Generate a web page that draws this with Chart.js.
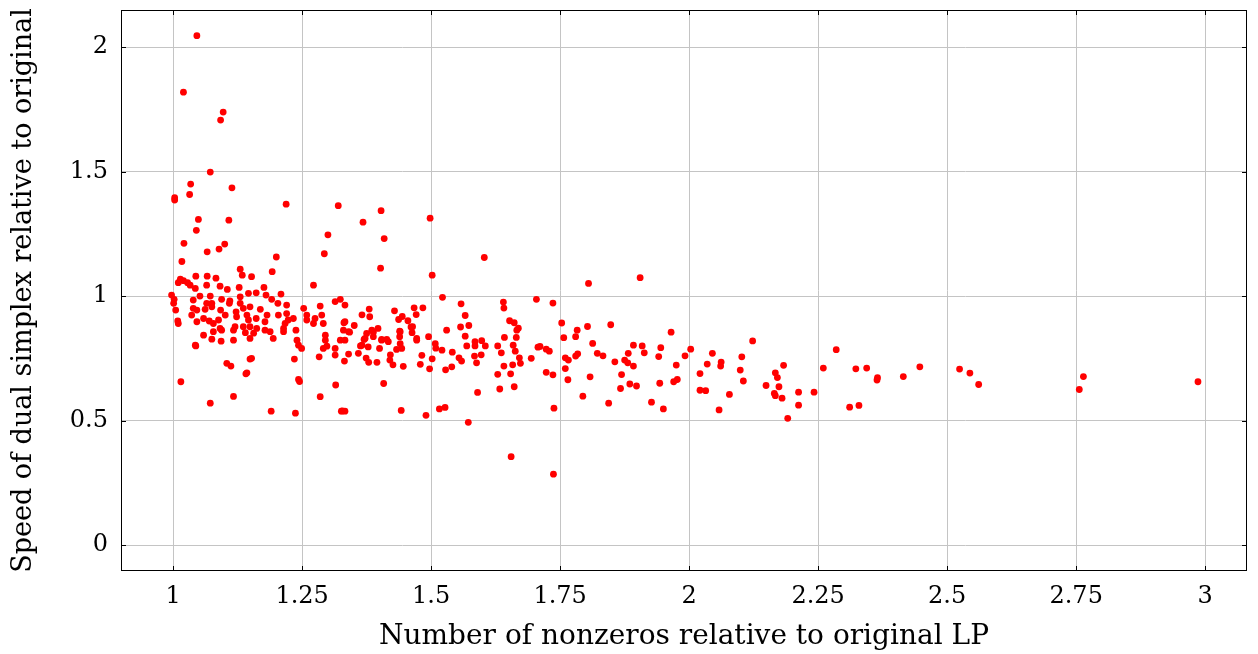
<!DOCTYPE html>
<html>
<head>
<meta charset="utf-8">
<script src="https://cdn.jsdelivr.net/npm/chart.js@4"></script>
<style>
  html, body { margin: 0; padding: 0; background: #fff; }
  #wrap { width: 1258px; height: 654px; }
</style>
</head>
<body>
<div id="wrap"><canvas id="chart"></canvas></div>
<script>
// nonzeros ratio (x) and dual simplex speed ratio (y)
const nonzeroRatio = [
  1.046, 1.020, 1.097, 1.092, 1.072, 1.034, 1.114, 1.032, 1.003, 1.003, 1.219, 1.320,
  1.049, 1.108, 1.045, 1.300, 1.021, 1.100, 1.066, 1.089, 1.293, 1.017, 1.200, 1.130,
  1.192, 1.134, 1.152, 1.044, 1.066, 1.083, 1.014, 1.010, 1.020, 1.028, 1.033, 1.043,
  1.065, 1.091, 1.105, 1.128, 1.176, 1.272, 0.997, 1.002, 1.001, 1.005, 1.009, 1.010,
  1.039, 1.052, 1.072, 1.065, 1.075, 1.094, 1.110, 1.130, 1.146, 1.161, 1.180, 1.209,
  1.191, 1.203, 1.220, 1.039, 1.046, 1.062, 1.075, 1.092, 1.109, 1.130, 1.136, 1.149,
  1.169, 1.182, 1.036, 1.059, 1.070, 1.088, 1.101, 1.122, 1.123, 1.143, 1.146, 1.161,
  1.149, 1.178, 1.204, 1.220, 1.223, 1.046, 1.078, 1.094, 1.078, 1.075, 1.091, 1.117,
  1.120, 1.136, 1.140, 1.156, 1.162, 1.178, 1.188, 1.194, 1.214, 1.214, 1.217, 1.233,
  1.238, 1.240, 1.243, 1.249, 1.253, 1.259, 1.259, 1.272, 1.275, 1.285, 1.288, 1.291,
  1.295, 1.295, 1.298, 1.291, 1.283, 1.314, 1.324, 1.333, 1.330, 1.333, 1.314, 1.314,
  1.340, 1.059, 1.093, 1.117, 1.152, 1.044, 1.104, 1.112, 1.143, 1.149, 1.235, 1.243,
  1.043, 1.149, 1.015, 1.072, 1.117, 1.141, 1.190, 1.237, 1.245, 1.285, 1.315, 1.326,
  1.333, 1.403, 1.368, 1.498, 1.409, 1.603, 1.402, 1.502, 1.522, 1.640, 1.641, 1.704,
  1.736, 1.558, 1.566, 1.484, 1.467, 1.429, 1.380, 1.333, 1.366, 1.381, 1.444, 1.471,
  1.437, 1.455, 1.652, 1.661, 1.669, 1.557, 1.573, 1.351, 1.331, 1.530, 1.566, 1.495,
  1.461, 1.439, 1.342, 1.388, 1.642, 1.665, 1.375, 1.385, 1.397, 1.439, 1.464, 1.472,
  1.404, 1.414, 1.370, 1.388, 1.440, 1.440, 1.443, 1.433, 1.404, 1.417, 1.400, 1.372,
  1.366, 1.324, 1.463, 1.508, 1.585, 1.598, 1.666, 1.408, 1.328, 1.442, 1.490, 1.516,
  1.527, 1.572, 1.655, 1.737, 1.590, 1.633, 1.661, 1.738, 1.629, 1.654, 1.723, 1.736,
  1.497, 1.528, 1.540, 1.479, 1.446, 1.426, 1.395, 1.379, 1.332, 1.588, 1.641, 1.658,
  1.673, 1.694, 1.559, 1.502, 1.482, 1.584, 1.597, 1.541, 1.554, 1.421, 1.420, 1.374,
  1.359, 1.340, 1.521, 1.509, 1.636, 1.663, 1.671, 1.707, 1.723, 1.729, 1.569, 1.629,
  1.585, 1.605, 1.659, 1.472, 1.378, 1.363, 1.711, 1.805, 1.905, 1.753, 1.757, 1.783,
  1.780, 1.803, 1.848, 1.813, 1.822, 1.833, 1.784, 1.780, 1.760, 1.766, 1.760, 1.765,
  1.808, 1.794, 1.856, 1.844, 1.869, 1.867, 1.875, 1.882, 1.881, 1.892, 1.885, 1.898,
  1.892, 1.909, 1.913, 1.927, 1.941, 1.945, 1.943, 1.950, 1.965, 1.975, 1.970, 1.977,
  1.992, 2.003, 2.021, 2.021, 2.032, 2.035, 2.045, 2.061, 2.062, 2.058, 2.078, 2.099,
  2.102, 2.105, 2.123, 2.149, 2.165, 2.167, 2.167, 2.171, 2.174, 2.180, 2.183, 2.191,
  2.212, 2.212, 2.242, 2.260, 2.285, 2.311, 2.329, 2.323, 2.344, 2.365, 2.364, 2.415,
  2.447, 2.524, 2.544, 2.561, 2.756, 2.764, 2.986
];
const speedRatio = [
  2.046, 1.819, 1.739, 1.707, 1.498, 1.450, 1.435, 1.408, 1.395, 1.386, 1.369, 1.363,
  1.308, 1.305, 1.264, 1.246, 1.212, 1.209, 1.178, 1.189, 1.170, 1.139, 1.157, 1.108,
  1.098, 1.084, 1.078, 1.080, 1.080, 1.072, 1.068, 1.054, 1.062, 1.054, 1.044, 1.031,
  1.044, 1.040, 1.027, 1.035, 1.035, 1.044, 1.004, 0.987, 0.971, 0.944, 0.900, 0.890,
  0.984, 1.000, 1.000, 0.971, 0.971, 0.987, 0.981, 0.997, 1.011, 1.013, 1.004, 1.008,
  0.987, 0.971, 0.964, 0.951, 0.944, 0.947, 0.957, 0.944, 0.971, 0.971, 0.951, 0.957,
  0.947, 0.924, 0.924, 0.910, 0.900, 0.904, 0.924, 0.937, 0.917, 0.924, 0.904, 0.910,
  0.877, 0.897, 0.924, 0.930, 0.904, 0.897, 0.890, 0.863, 0.857, 0.827, 0.870, 0.863,
  0.877, 0.877, 0.853, 0.851, 0.870, 0.863, 0.857, 0.830, 0.857, 0.870, 0.890, 0.910,
  0.863, 0.823, 0.803, 0.790, 0.951, 0.924, 0.904, 0.890, 0.910, 0.960, 0.924, 0.890,
  0.843, 0.823, 0.799, 0.790, 0.756, 0.978, 0.987, 0.897, 0.863, 0.823, 0.790, 0.763,
  0.857, 0.843, 0.819, 0.823, 0.750, 0.800, 0.730, 0.719, 0.692, 0.747, 0.747, 0.665,
  0.803, 0.830, 0.656, 0.570, 0.597, 0.688, 0.538, 0.530, 0.657, 0.596, 0.643, 0.538,
  0.538, 1.343, 1.297, 1.313, 1.231, 1.155, 1.112, 1.084, 0.995, 0.976, 0.952, 0.987,
  0.972, 0.969, 0.922, 0.953, 0.953, 0.941, 0.948, 0.964, 0.925, 0.917, 0.918, 0.926,
  0.906, 0.901, 0.901, 0.893, 0.871, 0.876, 0.882, 0.882, 0.893, 0.863, 0.839, 0.837,
  0.876, 0.859, 0.855, 0.855, 0.834, 0.834, 0.850, 0.863, 0.870, 0.837, 0.877, 0.830,
  0.826, 0.826, 0.826, 0.837, 0.857, 0.809, 0.790, 0.786, 0.823, 0.817, 0.790, 0.830,
  0.803, 0.823, 0.853, 0.809, 0.817, 0.821, 0.863, 0.649, 0.539, 0.541, 0.521, 0.547,
  0.553, 0.493, 0.355, 0.285, 0.613, 0.627, 0.636, 0.550, 0.686, 0.688, 0.694, 0.684,
  0.708, 0.704, 0.716, 0.726, 0.718, 0.724, 0.734, 0.734, 0.739, 0.732, 0.719, 0.724,
  0.730, 0.750, 0.739, 0.748, 0.762, 0.759, 0.764, 0.775, 0.752, 0.764, 0.743, 0.751,
  0.770, 0.767, 0.783, 0.791, 0.772, 0.779, 0.752, 0.795, 0.787, 0.779, 0.800, 0.800,
  0.800, 0.800, 0.803, 0.823, 0.796, 0.800, 0.798, 1.051, 1.074, 0.892, 0.833, 0.863,
  0.837, 0.878, 0.885, 0.810, 0.770, 0.760, 0.768, 0.759, 0.752, 0.743, 0.709, 0.664,
  0.676, 0.598, 0.736, 0.570, 0.685, 0.629, 0.743, 0.770, 0.732, 0.719, 0.647, 0.639,
  0.803, 0.800, 0.772, 0.574, 0.757, 0.793, 0.650, 0.547, 0.855, 0.723, 0.656, 0.665,
  0.760, 0.787, 0.689, 0.622, 0.620, 0.727, 0.770, 0.719, 0.735, 0.543, 0.605, 0.703,
  0.756, 0.659, 0.820, 0.641, 0.609, 0.600, 0.692, 0.673, 0.636, 0.590, 0.722, 0.509,
  0.614, 0.562, 0.614, 0.711, 0.785, 0.554, 0.561, 0.708, 0.711, 0.672, 0.663, 0.677,
  0.716, 0.707, 0.691, 0.645, 0.625, 0.677, 0.656
];

const xTicks = [1, 1.25, 1.5, 1.75, 2, 2.25, 2.5, 2.75, 3];
const yTicks = [0, 0.5, 1, 1.5, 2];

const xTitle = 'Number of nonzeros relative to original LP';
const yTitle = 'Speed of dual simplex relative to original';

const points = nonzeroRatio.map((x, i) => ({ x: x, y: speedRatio[i] }));

const serif = '"DejaVu Serif", "Liberation Serif", serif';

// black frame around the plot, plus the small inward tick marks
const framePlugin = {
  id: 'frame',
  afterDraw(chart) {
    const { ctx, chartArea: a, scales } = chart;
    ctx.save();
    ctx.strokeStyle = '#000';
    ctx.lineWidth = 1;
    ctx.strokeRect(a.left + 0.5, a.top + 0.5, a.right - a.left - 1, a.bottom - a.top - 1);
    ctx.beginPath();
    xTicks.forEach(v => {
      const px = Math.round(scales.x.getPixelForValue(v)) + 0.5;
      ctx.moveTo(px, a.bottom); ctx.lineTo(px, a.bottom - 5);
      ctx.moveTo(px, a.top); ctx.lineTo(px, a.top + 5);
    });
    yTicks.forEach(v => {
      const py = Math.round(scales.y.getPixelForValue(v)) + 0.5;
      ctx.moveTo(a.left, py); ctx.lineTo(a.left + 5, py);
      ctx.moveTo(a.right, py); ctx.lineTo(a.right - 5, py);
    });
    ctx.stroke();
    ctx.restore();
  }
};

new Chart(document.getElementById('chart'), {
  type: 'scatter',
  data: {
    datasets: [{
      data: points,
      backgroundColor: '#ff0000',
      borderWidth: 0,
      pointRadius: 3.4,
      pointHoverRadius: 3.4
    }]
  },
  options: {
    responsive: true,
    maintainAspectRatio: false,
    animation: false,
    layout: { padding: { top: 10, right: 11, left: 0, bottom: 0 } },
    plugins: {
      legend: { display: false },
      tooltip: { enabled: false }
    },
    scales: {
      x: {
        type: 'linear',
        min: 0.899,
        max: 3.081,
        afterBuildTicks: scale => { scale.ticks = xTicks.map(v => ({ value: v })); },
        afterFit: scale => { scale.height = 83; scale.paddingLeft = 0; scale.paddingRight = 0; },
        grid: { color: '#c4c4c4', drawTicks: false },
        border: { display: false },
        ticks: {
          padding: 11,
          color: '#000',
          font: { family: serif, size: 24 },
          callback: v => String(v)
        },
        title: {
          display: true,
          text: xTitle,
          color: '#000',
          font: { family: serif, size: 28 },
          padding: { top: 3, bottom: 0 }
        }
      },
      y: {
        type: 'linear',
        min: -0.104,
        max: 2.149,
        afterBuildTicks: scale => { scale.ticks = yTicks.map(v => ({ value: v })); },
        afterFit: scale => { scale.width = 121; scale.paddingTop = 0; scale.paddingBottom = 0; },
        grid: { color: '#c4c4c4', drawTicks: false },
        border: { display: false },
        ticks: {
          padding: 13,
          color: '#000',
          font: { family: serif, size: 24 },
          callback: v => String(v)
        },
        title: {
          display: true,
          text: yTitle,
          color: '#000',
          font: { family: serif, size: 27 },
          padding: { top: 8, bottom: 0 }
        }
      }
    }
  },
  plugins: [framePlugin]
});
</script>
</body>
</html>
